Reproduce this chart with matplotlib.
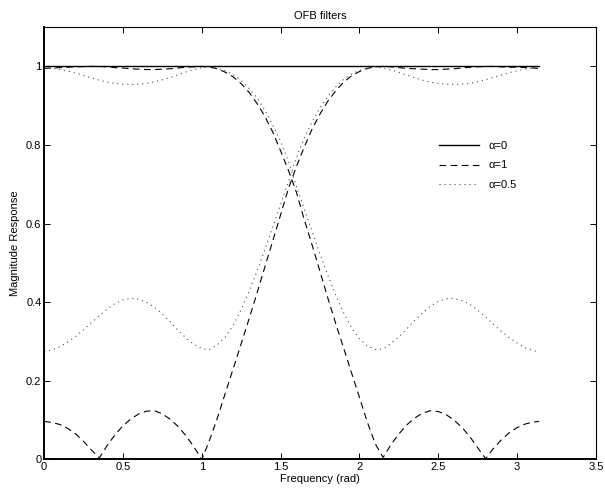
import numpy as np
import matplotlib
matplotlib.use("Agg")
import matplotlib.pyplot as plt
from matplotlib.ticker import FormatStrFormatter

plt.rcParams['font.family'] = ['Liberation Sans', 'DejaVu Sans']

# frequency grid (rad)
freq = [0.00, 0.05, 0.10, 0.15, 0.20, 0.25, 0.30, 0.35, 0.40, 0.45,
        0.50, 0.55, 0.60, 0.65, 0.70, 0.75, 0.80, 0.85, 0.90, 0.95,
        1.00, 1.05, 1.10, 1.15, 1.20, 1.25, 1.30, 1.35, 1.40, 1.45,
        1.50, 1.55, 1.60, 1.65, 1.70, 1.75, 1.80, 1.85, 1.90, 1.95,
        2.00, 2.05, 2.10, 2.15, 2.20, 2.25, 2.30, 2.35, 2.40, 2.45,
        2.50, 2.55, 2.60, 2.65, 2.70, 2.75, 2.80, 2.85, 2.90, 2.95,
        3.00, 3.05, 3.10, 3.14]

# alpha = 0 : flat response (lowpass and highpass coincide)
mag_a0 = [1.0] * 64

# alpha = 1 : lowpass / highpass
low_a1 = [0.995, 0.996, 0.997, 0.998, 0.999, 0.9995, 1.000, 1.000, 0.999, 0.997,
          0.996, 0.994, 0.993, 0.992, 0.992, 0.993, 0.994, 0.996, 0.998, 0.999,
          1.000, 0.998, 0.994, 0.985, 0.973, 0.956, 0.934, 0.906, 0.873, 0.833,
          0.785, 0.735, 0.680, 0.610, 0.545, 0.478, 0.410, 0.345, 0.283, 0.220,
          0.158, 0.095, 0.040, 0.005, 0.038, 0.065, 0.088, 0.105, 0.118, 0.124,
          0.122, 0.114, 0.100, 0.082, 0.058, 0.030, 0.002, 0.028, 0.050, 0.068,
          0.081, 0.090, 0.095, 0.097]
high_a1 = [0.097, 0.094, 0.089, 0.079, 0.065, 0.046, 0.024, 0.004, 0.036, 0.063,
           0.086, 0.103, 0.116, 0.123, 0.124, 0.116, 0.102, 0.084, 0.060, 0.032,
           0.000, 0.050, 0.107, 0.170, 0.232, 0.295, 0.358, 0.423, 0.490, 0.556,
           0.623, 0.690, 0.745, 0.795, 0.841, 0.879, 0.912, 0.938, 0.960, 0.976,
           0.987, 0.995, 0.999, 1.000, 0.999, 0.997, 0.995, 0.994, 0.993, 0.992,
           0.992, 0.993, 0.994, 0.996, 0.998, 0.999, 1.000, 1.000, 0.999, 0.998,
           0.998, 0.997, 0.996, 0.995]

# alpha = 0.5 : lowpass / highpass
low_a05 = [0.996, 0.995, 0.992, 0.988, 0.983, 0.977, 0.971, 0.965, 0.960, 0.957,
           0.955, 0.954, 0.955, 0.957, 0.961, 0.966, 0.972, 0.979, 0.986, 0.992,
           0.997, 0.999, 0.995, 0.989, 0.979, 0.964, 0.944, 0.920, 0.889, 0.851,
           0.809, 0.758, 0.695, 0.637, 0.580, 0.523, 0.468, 0.418, 0.373, 0.335,
           0.307, 0.289, 0.280, 0.281, 0.295, 0.312, 0.332, 0.354, 0.373, 0.390,
           0.402, 0.409, 0.410, 0.404, 0.395, 0.380, 0.362, 0.344, 0.326, 0.310,
           0.296, 0.285, 0.277, 0.274]
high_a05 = [0.274, 0.279, 0.287, 0.299, 0.313, 0.330, 0.348, 0.366, 0.383, 0.397,
            0.406, 0.410, 0.408, 0.400, 0.387, 0.370, 0.350, 0.328, 0.309, 0.293,
            0.282, 0.280, 0.292, 0.312, 0.342, 0.382, 0.428, 0.479, 0.534, 0.592,
            0.649, 0.707, 0.768, 0.818, 0.859, 0.895, 0.924, 0.948, 0.967, 0.981,
            0.990, 0.996, 0.999, 0.996, 0.991, 0.985, 0.978, 0.971, 0.965, 0.960,
            0.957, 0.955, 0.954, 0.955, 0.957, 0.961, 0.966, 0.972, 0.978, 0.984,
            0.989, 0.993, 0.995, 0.996]

fig = plt.figure(figsize=(6.05, 4.93), dpi=100)
ax = fig.add_axes([0.073, 0.068, 0.912, 0.877])

ax.plot(freq, mag_a0, color='black', lw=1.0, label='α=0')
ax.plot(freq, low_a1, color='black', lw=0.8, dashes=(6, 4), label='α=1')
ax.plot(freq, high_a1, color='black', lw=0.8, dashes=(6, 4))
ax.plot(freq, low_a05, color='0.3', lw=0.8, dashes=(1, 3.5), label='α=0.5')
ax.plot(freq, high_a05, color='0.3', lw=0.8, dashes=(1, 3.5))

ax.set_xlim(0, 3.5)
ax.set_ylim(0, 1.1)
ax.set_xticks(np.arange(0, 3.51, 0.5))
ax.set_yticks(np.arange(0, 1.01, 0.2))
ax.xaxis.set_major_formatter(FormatStrFormatter('%g'))
ax.yaxis.set_major_formatter(FormatStrFormatter('%g'))
ax.tick_params(direction='in', top=True, right=True, labelsize=8, length=4, width=0.7, pad=2)

for side in ['left', 'bottom']:
    ax.spines[side].set_linewidth(1.4)
for side in ['top', 'right']:
    ax.spines[side].set_linewidth(0.8)

ax.set_title('OFB filters', fontsize=8, pad=6)
ax.set_xlabel('Frequency (rad)', fontsize=8, labelpad=1)
ax.set_ylabel('Magnitude Response', fontsize=8, labelpad=4)

ax.legend(loc='upper left', bbox_to_anchor=(0.697, 0.76), frameon=False, fontsize=8,
          handlelength=3.6, labelspacing=0.86, handletextpad=0.9)

fig.savefig('out.png', dpi=100)
